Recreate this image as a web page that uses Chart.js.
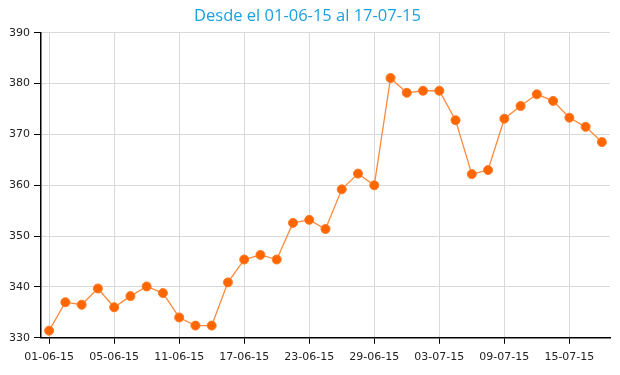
<!DOCTYPE html>
<html>
<head>
<meta charset="utf-8">
<script src="https://cdn.jsdelivr.net/npm/chart.js@4/dist/chart.umd.min.js"></script>
<style>
html,body{margin:0;padding:0;background:#fff;}
#wrap{width:620px;height:375px;position:relative;}
</style>
</head>
<body>
<div id="wrap"><canvas id="c" width="620" height="375"></canvas></div>
<script>
const titleText = "Desde el 01-06-15 al 17-07-15";
const dates = ["01-06-15","02-06-15","03-06-15","04-06-15","05-06-15","08-06-15","09-06-15","10-06-15","11-06-15","12-06-15","15-06-15","16-06-15","17-06-15","18-06-15","19-06-15","22-06-15","23-06-15","24-06-15","25-06-15","26-06-15","29-06-15","30-06-15","01-07-15","02-07-15","03-07-15","06-07-15","07-07-15","08-07-15","09-07-15","10-07-15","13-07-15","14-07-15","15-07-15","16-07-15","17-07-15"];
const values = [331.4,337.0,336.5,339.7,336.0,338.2,340.1,338.8,334.0,332.4,332.4,340.9,345.4,346.3,345.4,352.6,353.2,351.4,359.2,362.3,360.0,381.1,378.2,378.6,378.6,372.8,362.2,363.0,373.1,375.6,377.9,376.6,373.3,371.5,368.5];
const shownTicks = ["01-06-15","05-06-15","11-06-15","17-06-15","23-06-15","29-06-15","03-07-15","09-07-15","15-07-15"];
const yMin = 330, yMax = 390, yStep = 10;

new Chart(document.getElementById('c'), {
  type: 'line',
  data: {
    labels: dates,
    datasets: [{
      data: values,
      borderColor: '#ff8a3d',
      borderWidth: 1.3,
      backgroundColor: '#ff6600',
      pointBackgroundColor: '#ff6600',
      pointBorderColor: '#ff7a22',
      pointBorderWidth: 1,
      pointRadius: 4.5,
      tension: 0,
      fill: false
    }]
  },
  options: {
    responsive: false,
    animation: false,
    layout: {padding: {left: 5, right: 10, top: 0, bottom: 4}},
    plugins: {
      legend: {display: false},
      tooltip: {enabled: false},
      title: {
        display: true,
        text: titleText,
        color: '#1ba1e2',
        font: {family: 'Open Sans', size: 16.5, weight: 'normal'},
        padding: {top: 6, bottom: 7}
      }
    },
    scales: {
      x: {
        offset: true,
        grid: {offset: false, color: '#d9d9d9', lineWidth: 1, tickLength: 6, tickColor: '#000', drawTicks: true},
        border: {color: '#000', width: 1.5},
        ticks: {
          autoSkip: false,
          maxRotation: 0,
          color: '#222',
          font: {family: 'DejaVu Sans', size: 11},
          padding: 7,
          callback: function(v, i) {
            const l = this.getLabelForValue(v);
            return shownTicks.includes(l) ? l : null;
          }
        }
      },
      y: {
        min: yMin, max: yMax,
        grid: {color: '#d9d9d9', lineWidth: 1, tickLength: 7, tickColor: '#000', drawTicks: true},
        border: {color: '#000', width: 1.5},
        ticks: {stepSize: yStep, color: '#222', font: {family: 'DejaVu Sans', size: 11}, padding: 4}
      }
    }
  }
});
</script>
</body>
</html>
